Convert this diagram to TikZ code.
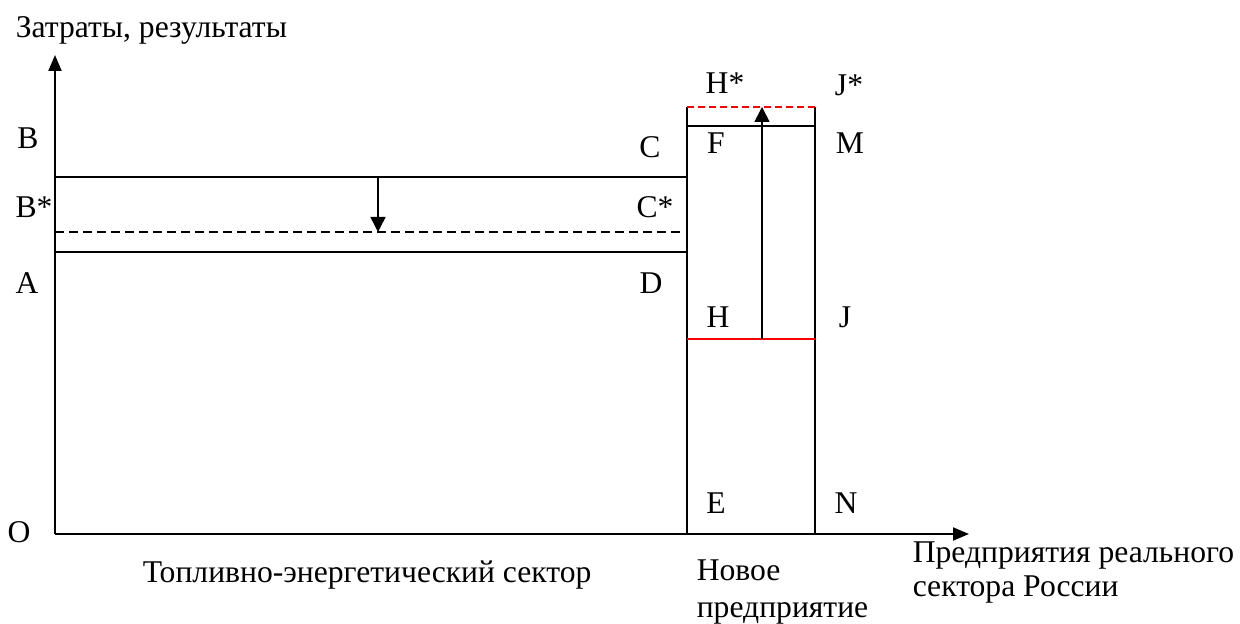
\documentclass[tikz,border=0pt]{standalone}
\usepackage{fontspec}
\setmainfont{Liberation Serif}
\usetikzlibrary{arrows.meta,positioning}

\tikzset{
  lbl/.style={inner sep=0pt, anchor=base, font=\fontsize{18}{21}\selectfont},
  txt/.style={lbl, anchor=base west},
  axis/.style={line width=1.1pt, -{Triangle[length=0.32cm,width=0.26cm]}},
  shift arrow/.style={line width=0.9pt, -{Triangle[length=0.3cm,width=0.3cm]}},
  old level/.style={line width=0.9pt},
  new level/.style={line width=0.9pt, dash pattern=on 0.18cm off 0.1cm},
}

\begin{document}
\begin{tikzpicture}[line width=0.9pt]
 \useasboundingbox (0,0) rectangle (24.8,12.48);
 % points
 \coordinate (o) at (1.10,1.80);
 \coordinate [above=9.58cm of o] (ytip);
 \coordinate [right=18.28cm of o] (xtip);
 \coordinate [above=7.14cm of o] (b);
 \coordinate [above=6.04cm of o] (bs);
 \coordinate [above=5.64cm of o] (a);
 \coordinate [right=12.64cm of o] (e);
 \coordinate [right=2.56cm of e] (n);
 \coordinate [above=7.14cm of e] (c);
 \coordinate [above left=6.04cm and 0.10cm of e] (cs);
 \coordinate [above=5.64cm of e] (d);
 \coordinate [above=8.54cm of e] (hs);
 \coordinate [above=8.54cm of n] (js);
 \coordinate [above=8.16cm of e] (f);
 \coordinate [above=8.16cm of n] (m);
 \coordinate [above=3.90cm of e] (h);
 \coordinate [above=3.90cm of n] (j);
 \coordinate [right=6.46cm of b] (down1);
 \coordinate [right=6.46cm of bs] (down2);
 \coordinate [right=1.50cm of h] (up1);
 \coordinate [right=1.50cm of hs] (up2);

 % axes
 \draw [axis] (o) -- (ytip);
 \draw [axis] (o) -- (xtip);

 % fuel and energy sector
 \draw [old level] (b) -- (c);
 \draw [new level] (bs) -- (cs);
 \draw [old level] (a) -- (d);
 \draw [shift arrow] (down1) -- (down2);

 % new enterprise
 \draw (e) -- (hs);
 \draw (n) -- (js);
 \draw (f) -- (m);
 \draw [red] (h) -- (j);
 \draw [red, dash pattern=on 0.14cm off 0.08cm] (hs) -- (js);
 \draw [shift arrow] (up1) -- (up2);

 % labels
 \node [txt] (ylabel) at (0.30,11.72) {Затраты, результаты};
 \node [lbl] (lB) at (0.56,9.50) {B};
 \node [lbl] (lBs) at (0.68,8.12) {B*};
 \node [lbl] (lA) at (0.54,6.60) {A};
 \node [lbl] (lO) at (0.38,1.62) {O};
 \node [lbl] (lC) at (13.00,9.32) {C};
 \node [lbl] (lCs) at (13.10,8.12) {C*};
 \node [lbl] (lD) at (13.02,6.60) {D};
 \node [lbl] (lHs) at (14.50,10.60) {H*};
 \node [lbl] (lJs) at (16.98,10.56) {J*};
 \node [lbl] (lF) at (14.32,9.40) {F};
 \node [lbl] (lM) at (17.00,9.40) {M};
 \node [lbl] (lH) at (14.36,5.92) {H};
 \node [lbl] (lJ) at (16.90,5.92) {J};
 \node [lbl] (lE) at (14.32,2.20) {E};
 \node [lbl] (lN) at (16.92,2.20) {N};
 \node [txt] (tek) at (2.84,0.82) {Топливно-энергетический сектор};
 \node [txt] (new1) at (13.92,0.86) {Новое};
 \node [txt] (new2) at (13.92,0.12) {предприятие};
 \node [txt] (xlabel1) at (18.24,1.22) {Предприятия реального};
 \node [txt] (xlabel2) at (18.24,0.54) {сектора России};
\end{tikzpicture}
\end{document}
